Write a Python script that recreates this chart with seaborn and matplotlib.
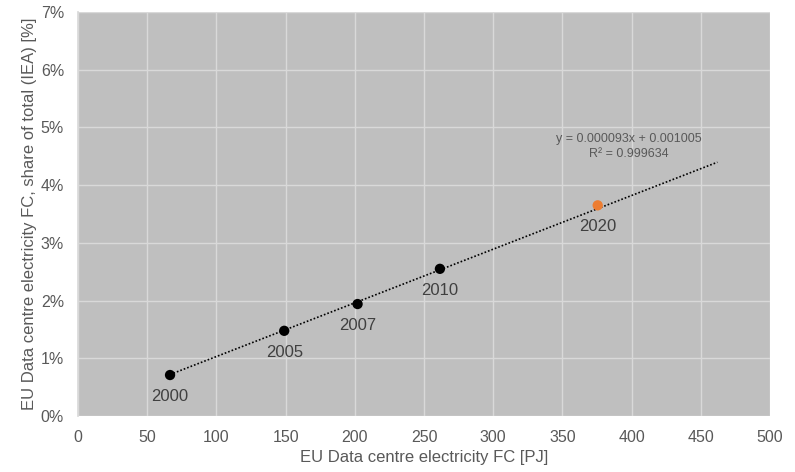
import numpy as np
import pandas as pd
import matplotlib
matplotlib.use("Agg")
import matplotlib.pyplot as plt
import seaborn as sns
from matplotlib.ticker import PercentFormatter, MultipleLocator

# data
years = ["2000", "2005", "2007", "2010", "2020"]
fc_pj = [66.5, 149.0, 202.0, 261.5, 375.5]
share = [0.0071, 0.01476, 0.0194, 0.0255, 0.0365]
point_kind = ["hist", "hist", "hist", "hist", "forecast"]

# trendline as printed on the chart
slope = 0.000093
intercept = 0.001005
r_squared = 0.999634
trend_end = 462

df = pd.DataFrame({"year": years, "fc": fc_pj, "share": share, "kind": point_kind})

sns.set_theme(style="whitegrid")
plt.rcParams['font.family'] = ['Liberation Sans', 'DejaVu Sans']

fig = plt.figure(figsize=(7.95, 4.72), dpi=100)
ax = fig.add_axes([78 / 795, 1 - 416 / 472, (770 - 78) / 795, (416 - 12) / 472])
ax.set_facecolor('#bfbfbf')
ax.grid(True, color='#d9d9d9', linewidth=1)

tx = np.linspace(min(fc_pj), trend_end, 50)
ax.plot(tx, slope * tx + intercept, linestyle=(0, (1, 1.2)), color='black', linewidth=1.2, zorder=2)

sns.scatterplot(data=df, x="fc", y="share", hue="kind",
                palette={"hist": "black", "forecast": "#ed7d31"},
                s=55, edgecolor='none', legend=False, ax=ax, zorder=3)

for _, r in df.iterrows():
    ax.annotate(r["year"], (r["fc"], r["share"]), xytext=(0, -10), textcoords='offset points',
                ha='center', va='top', fontsize=12, color='#404040')

ax.text(398, 0.0467, f"y = {slope:.6f}x + {intercept:.6f}\nR² = {r_squared:.6f}",
        ha='center', va='center', fontsize=9, color='#595959', linespacing=1.25)

ax.set_xlim(0, 500)
ax.set_ylim(0, 0.07)
ax.xaxis.set_major_locator(MultipleLocator(50))
ax.yaxis.set_major_locator(MultipleLocator(0.01))
ax.yaxis.set_major_formatter(PercentFormatter(1.0, decimals=0))
ax.tick_params(axis='both', labelsize=11.5, colors='#595959', length=0)
ax.tick_params(axis='x', pad=10)
ax.tick_params(axis='y', pad=10)

for side in ['top', 'right', 'bottom']:
    ax.spines[side].set_visible(False)
ax.spines['left'].set_color('#d9d9d9')

ax.set_xlabel("EU Data centre electricity FC [PJ]", fontsize=12, color='#595959', labelpad=4)
ax.set_ylabel("EU Data centre electricity FC, share of total (IEA) [%]", fontsize=12, color='#595959', labelpad=3)

fig.savefig("out.png", dpi=100)
